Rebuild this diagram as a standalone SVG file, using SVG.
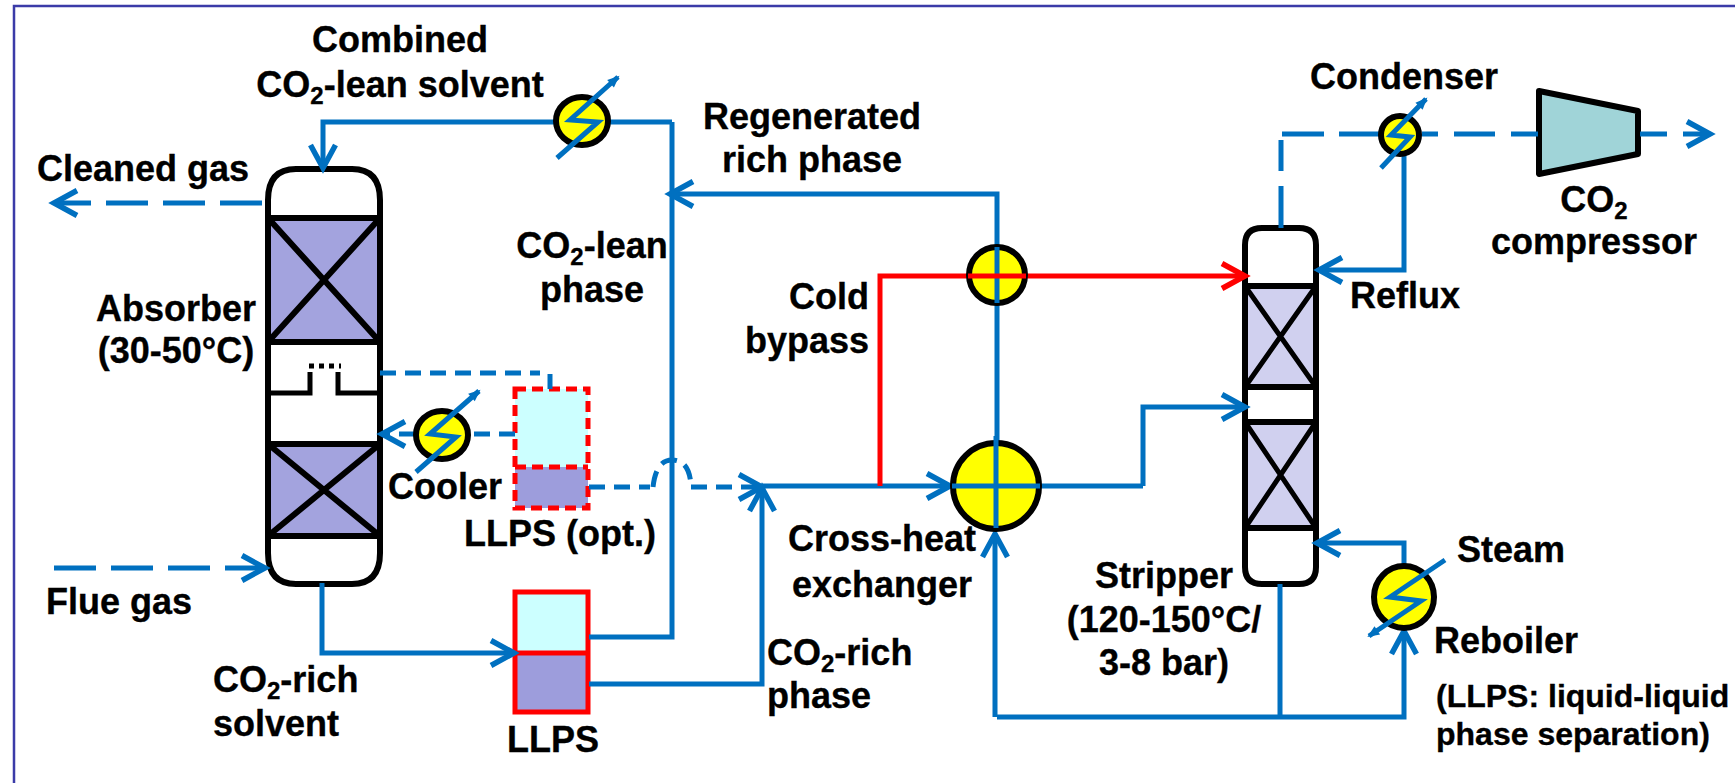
<svg xmlns="http://www.w3.org/2000/svg" width="1735" height="783" viewBox="0 0 1735 783">
<style>
text{font-family:"Liberation Sans",Arial,sans-serif;font-weight:bold;font-size:36px;fill:#000;stroke:#000;stroke-width:.35px}
.m{text-anchor:middle}.e{text-anchor:end}.s{font-size:32px}
.col{fill:#fff;stroke:#000;stroke-width:6}
.bar{fill:none;stroke:#000;stroke-width:5}
.x{fill:none;stroke:#000;stroke-width:6}
.hx{fill:#ff0;stroke:#000;stroke-width:6}
.zap{fill:none;stroke:#0070c0;stroke-width:5;marker-end:url(#tip)}
.l{fill:none;stroke:#0070c0;stroke-width:5}
.a{marker-end:url(#arr)}
.d{stroke-dasharray:42 15}
.ds{stroke-dasharray:16 9}
.o{stroke-dasharray:27 16}
.r{stroke-dasharray:16 16 41 16 27 0;}
.b{fill:#a3a3de;stroke:#000;stroke-width:6}
.c{fill:#d0d0ef;stroke:#000;stroke-width:6}
</style>
<defs>
<marker id="arr" markerUnits="userSpaceOnUse" markerWidth="34" markerHeight="34" refX="26" refY="15" orient="auto" overflow="visible"><path d="M3,2.5 L26,15 L3,27.5" fill="none" stroke="#0070c0" stroke-width="5.5"/></marker>
<marker id="arrR" markerUnits="userSpaceOnUse" markerWidth="34" markerHeight="34" refX="26" refY="15" orient="auto" overflow="visible"><path d="M3,2.5 L26,15 L3,27.5" fill="none" stroke="#f00" stroke-width="5.5"/></marker>
<marker id="tip" markerUnits="userSpaceOnUse" markerWidth="14" markerHeight="12" refX="10" refY="6" orient="auto" overflow="visible"><path d="M0,1 L12,6 L0,11 Z" fill="#0070c0"/></marker>
</defs>
<rect width="1735" height="783" fill="#fff"/>
<path id="frame" d="M14,783 V6 H1735" fill="none" stroke="#3b3ba8" stroke-width="2.5"/>

<g id="absorber">
<path class="col" d="M268,200 Q268,169 296,169 H352 Q380,169 380,200 V553 Q380,584 352,584 H296 Q268,584 268,553 Z"/>
<rect class="b" x="268" y="218" width="112" height="124"/>
<path class="x" d="M268,218 L380,342 M380,218 L268,342"/>
<rect class="b" x="268" y="444" width="112" height="92"/>
<path class="x" d="M268,444 L380,536 M380,444 L268,536"/>
<path class="bar" d="M268,393 H310 V372 M338,372 V393 H380"/>
<path d="M309,366 H341" fill="none" stroke="#000" stroke-width="5" stroke-dasharray="5 5"/>
</g>

<g id="stripper">
<path class="col" d="M1245,245 Q1245,228 1262,228 H1299 Q1316,228 1316,245 V567 Q1316,584 1299,584 H1262 Q1245,584 1245,567 Z"/>
<rect class="c" x="1245" y="286" width="71" height="101"/>
<path class="bar" d="M1245,286 L1316,387 M1316,286 L1245,387"/>
<rect class="c" x="1245" y="422" width="71" height="106"/>
<path class="bar" d="M1245,422 L1316,528 M1316,422 L1245,528"/>
</g>

<g id="llps">
<rect x="515" y="592" width="73" height="61" fill="#ccffff"/>
<rect x="515" y="653" width="73" height="59" fill="#9d9ddc"/>
<path d="M515,592 H588 V712 H515 Z M515,653 H588" fill="none" stroke="#f00" stroke-width="5"/>
</g>

<g id="llps-opt">
<rect x="515" y="389" width="73" height="78" fill="#ccffff"/>
<rect x="515" y="467" width="73" height="41" fill="#9d9ddc"/>
<path d="M515,389 H588 V508 H515 Z M515,467 H588" fill="none" stroke="#f00" stroke-width="5" stroke-dasharray="11 6"/>
</g>

<g id="compressor"><path d="M1539,91 L1638,111 V154 L1539,174 Z" fill="#a0d4d8" stroke="#000" stroke-width="6" stroke-linejoin="round"/></g>

<g id="connectors">
<path class="l a" d="M672,122 H323 V168"/>
<path class="l" d="M589,637 H672 V122"/>
<path class="l d a" d="M262,203 H54"/>
<path class="l d a" d="M54,568 H265"/>
<path class="l a" d="M322,583 V653 H514"/>
<path class="l a" d="M589,684 H762 V488"/>
<path class="l a" d="M997,528 V194 H670"/>
<path class="l a" d="M762,486 H950"/>
<path class="l" d="M950,486 H1143"/>
<path class="l a" d="M1143,486 V407 H1245"/>
<path class="l a" d="M1280,584 V717 M997,717 H1404 V631"/>
<path class="l a" d="M995,717 V534"/>
<path class="l a" d="M1404,566 V543 H1317"/>
<path class="l a" d="M1404,153 V270 H1319"/>
<path d="M880,486 V276 H1245" fill="none" stroke="#f00" stroke-width="5" marker-end="url(#arrR)"/>
<path class="l ds" d="M380,373 H540"/>
<path class="l" d="M550,374 V389"/>
<path class="l ds a" d="M515,434 H470 M415,434 H382"/>
<path class="l ds" d="M589,487 H650"/>
<path class="l ds" d="M653,487 Q656,460 672,460 Q690,460 691,487"/>
<path class="l ds a" d="M691,487 H762"/>
<path class="l d" d="M1281,228 V140"/>
<path class="l d" d="M1282,134 H1380"/>
<path class="l r" d="M1422,134 H1538"/>
<path class="l o a" d="M1640,134 H1710"/>
</g>

<g id="hx-cold-top"><ellipse class="hx" cx="997" cy="275" rx="28" ry="28"/></g>
<g id="hx-cross"><ellipse class="hx" cx="996" cy="486" rx="43" ry="43"/></g>

<g id="overlay-lines">
<path class="l" d="M997,247 V303"/>
<path class="l" d="M996,436 V528 M952,486 H1040"/>
<path d="M968,276 H1026" fill="none" stroke="#f00" stroke-width="5"/>
</g>

<g id="cooler-top"><ellipse class="hx" cx="582" cy="121" rx="26" ry="24"/><path class="zap" d="M557,158 L598,122 L570,120 L618,77"/></g>
<g id="cooler"><ellipse class="hx" cx="442" cy="435" rx="26" ry="24"/><path class="zap" d="M416,472 L456,437 L430,434 L479,391"/></g>
<g id="condenser"><ellipse class="hx" cx="1400" cy="135" rx="19" ry="19"/><path class="zap" d="M1381,168 L1410,137 L1391,135 L1426,99"/></g>
<g id="reboiler"><ellipse class="hx" cx="1404" cy="597" rx="30" ry="31"/><path class="zap" d="M1445,560 L1390,597 L1421,601 L1369,636"/></g>

<g id="labels">
<text class="m" x="400" y="52">Combined</text>
<text class="m" x="400" y="97">CO<tspan font-size="24" dy="7">2</tspan><tspan dy="-7">-lean solvent</tspan></text>
<text x="37" y="181">Cleaned gas</text>
<text class="m" x="176" y="321">Absorber</text>
<text class="m" x="176" y="363">(30-50°C)</text>
<text class="m" x="592" y="258">CO<tspan font-size="24" dy="7">2</tspan><tspan dy="-7">-lean</tspan></text>
<text class="m" x="592" y="302">phase</text>
<text x="388" y="499">Cooler</text>
<text x="464" y="546">LLPS (opt.)</text>
<text x="46" y="614">Flue gas</text>
<text x="213" y="692">CO<tspan font-size="24" dy="7">2</tspan><tspan dy="-7">-rich</tspan></text>
<text x="213" y="736">solvent</text>
<text class="m" x="553" y="752">LLPS</text>
<text x="767" y="665">CO<tspan font-size="24" dy="7">2</tspan><tspan dy="-7">-rich</tspan></text>
<text x="767" y="708">phase</text>
<text class="m" x="812" y="129">Regenerated</text>
<text class="m" x="812" y="172">rich phase</text>
<text class="e" x="869" y="309">Cold</text>
<text class="e" x="869" y="353">bypass</text>
<text class="m" x="882" y="551">Cross-heat</text>
<text class="m" x="882" y="597">exchanger</text>
<text class="m" x="1164" y="588">Stripper</text>
<text class="m" x="1164" y="632">(120-150°C/</text>
<text class="m" x="1164" y="675">3-8 bar)</text>
<text x="1457" y="562">Steam</text>
<text x="1434" y="653">Reboiler</text>
<text class="s" x="1436" y="707">(LLPS: liquid-liquid</text>
<text class="s" x="1436" y="745">phase separation)</text>
<text class="m" x="1404" y="89">Condenser</text>
<text class="m" x="1594" y="212">CO<tspan font-size="24" dy="7">2</tspan></text>
<text class="m" x="1594" y="254">compressor</text>
<text x="1350" y="308">Reflux</text>
</g>
</svg>
